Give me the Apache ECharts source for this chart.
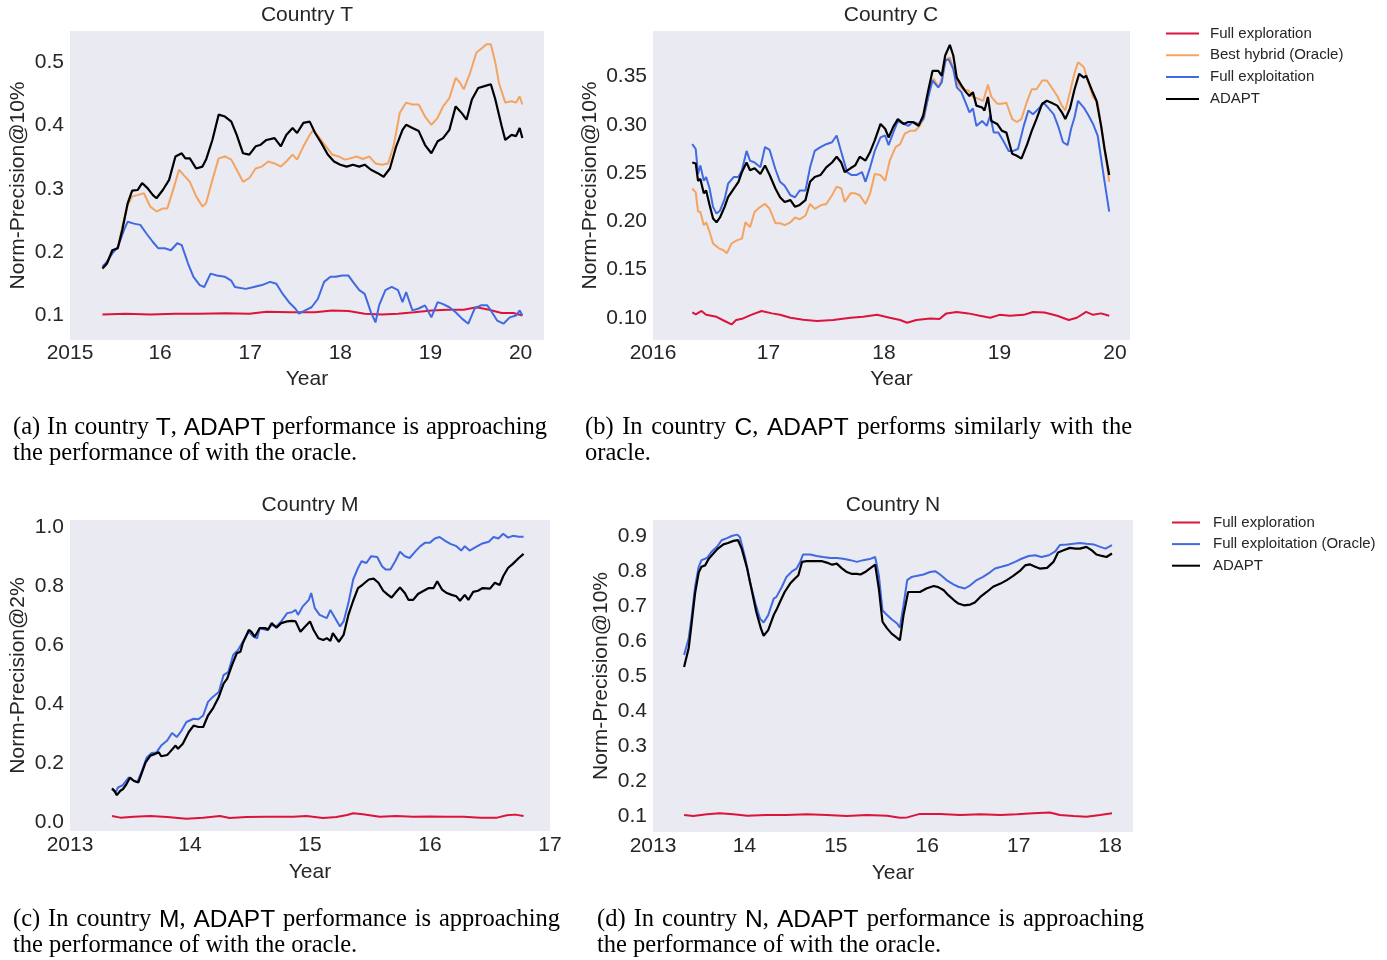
<!DOCTYPE html>
<html><head><meta charset="utf-8">
<script src="https://cdn.jsdelivr.net/npm/echarts@6/dist/echarts.min.js"></script>
<style>html,body{margin:0;padding:0;background:#fff}#c{width:1387px;height:960px}</style>
</head><body><div id="c"></div>
<script>
// ---------- Country T ----------
const tExplore = [[2015.36,0.1016],[2015.62,0.1026],[2015.89,0.1016],[2016.17,0.1026],[2016.44,0.1026],[2016.72,0.1037],[2016.99,0.1026],[2017.18,0.106],[2017.45,0.105],[2017.72,0.105],[2017.91,0.108],[2018.09,0.107],[2018.27,0.1026],[2018.46,0.1016],[2018.64,0.1026],[2018.82,0.105],[2019.01,0.108],[2019.19,0.109],[2019.37,0.109],[2019.51,0.113],[2019.65,0.109],[2019.79,0.104],[2019.92,0.104],[2020.02,0.100]];
const tOracle = [[2015.36,0.174],[2015.41,0.182],[2015.47,0.203],[2015.53,0.206],[2015.58,0.240],[2015.64,0.274],[2015.69,0.288],[2015.75,0.290],[2015.82,0.293],[2015.89,0.272],[2015.96,0.264],[2016.03,0.269],[2016.08,0.269],[2016.15,0.301],[2016.21,0.330],[2016.26,0.322],[2016.33,0.311],[2016.40,0.288],[2016.47,0.272],[2016.51,0.277],[2016.58,0.314],[2016.65,0.348],[2016.72,0.351],[2016.79,0.346],[2016.85,0.330],[2016.92,0.311],[2016.99,0.317],[2017.06,0.332],[2017.13,0.335],[2017.20,0.343],[2017.27,0.340],[2017.34,0.335],[2017.40,0.343],[2017.47,0.354],[2017.52,0.346],[2017.59,0.367],[2017.66,0.385],[2017.70,0.393],[2017.77,0.380],[2017.84,0.367],[2017.91,0.354],[2017.98,0.351],[2018.05,0.346],[2018.11,0.348],[2018.18,0.351],[2018.25,0.347],[2018.32,0.351],[2018.39,0.340],[2018.46,0.338],[2018.53,0.340],[2018.59,0.367],[2018.66,0.420],[2018.73,0.436],[2018.80,0.433],[2018.87,0.433],[2018.94,0.414],[2019.01,0.401],[2019.08,0.412],[2019.14,0.430],[2019.21,0.443],[2019.28,0.475],[2019.33,0.467],[2019.37,0.457],[2019.44,0.483],[2019.51,0.515],[2019.58,0.523],[2019.62,0.528],[2019.67,0.528],[2019.72,0.499],[2019.76,0.467],[2019.83,0.436],[2019.90,0.438],[2019.95,0.436],[2019.99,0.446],[2020.02,0.433]];
const tExploit = [[2015.36,0.177],[2015.41,0.185],[2015.47,0.198],[2015.53,0.208],[2015.60,0.235],[2015.64,0.248],[2015.71,0.245],[2015.78,0.243],[2015.85,0.229],[2015.92,0.216],[2015.98,0.206],[2016.05,0.206],[2016.12,0.203],[2016.19,0.214],[2016.24,0.211],[2016.31,0.182],[2016.37,0.161],[2016.44,0.148],[2016.49,0.145],[2016.56,0.166],[2016.63,0.163],[2016.72,0.161],[2016.79,0.155],[2016.83,0.145],[2016.95,0.142],[2017.04,0.145],[2017.13,0.148],[2017.22,0.153],[2017.29,0.150],[2017.36,0.134],[2017.43,0.121],[2017.50,0.111],[2017.54,0.103],[2017.61,0.108],[2017.68,0.113],[2017.75,0.126],[2017.82,0.153],[2017.89,0.161],[2017.95,0.161],[2018.02,0.163],[2018.09,0.163],[2018.14,0.153],[2018.21,0.140],[2018.27,0.134],[2018.34,0.105],[2018.39,0.089],[2018.43,0.116],[2018.50,0.140],[2018.57,0.145],[2018.64,0.140],[2018.69,0.121],[2018.73,0.137],[2018.80,0.108],[2018.87,0.111],[2018.94,0.116],[2019.01,0.097],[2019.08,0.121],[2019.14,0.118],[2019.21,0.113],[2019.28,0.105],[2019.35,0.095],[2019.42,0.087],[2019.49,0.111],[2019.56,0.116],[2019.63,0.116],[2019.67,0.108],[2019.74,0.092],[2019.81,0.087],[2019.88,0.097],[2019.95,0.100],[2019.99,0.108],[2020.02,0.100]];
const tAdapt = [[2015.36,0.174],[2015.41,0.182],[2015.47,0.203],[2015.53,0.206],[2015.58,0.235],[2015.64,0.277],[2015.69,0.297],[2015.75,0.298],[2015.80,0.309],[2015.86,0.301],[2015.92,0.290],[2015.96,0.285],[2016.03,0.298],[2016.10,0.314],[2016.17,0.351],[2016.24,0.356],[2016.28,0.348],[2016.33,0.348],[2016.40,0.332],[2016.47,0.335],[2016.51,0.346],[2016.58,0.377],[2016.65,0.417],[2016.72,0.414],[2016.79,0.406],[2016.85,0.385],[2016.92,0.356],[2016.99,0.354],[2017.06,0.367],[2017.11,0.369],[2017.18,0.377],[2017.27,0.380],[2017.34,0.367],[2017.40,0.385],[2017.47,0.396],[2017.52,0.388],[2017.59,0.404],[2017.66,0.406],[2017.72,0.388],[2017.79,0.372],[2017.86,0.354],[2017.93,0.343],[2018.00,0.338],[2018.07,0.335],[2018.14,0.338],[2018.21,0.335],[2018.27,0.338],[2018.34,0.330],[2018.41,0.325],[2018.48,0.319],[2018.55,0.332],[2018.62,0.367],[2018.69,0.393],[2018.73,0.401],[2018.80,0.396],[2018.87,0.391],[2018.94,0.369],[2019.01,0.356],[2019.08,0.375],[2019.14,0.380],[2019.21,0.393],[2019.28,0.430],[2019.35,0.419],[2019.40,0.409],[2019.46,0.441],[2019.53,0.459],[2019.60,0.462],[2019.67,0.465],[2019.72,0.441],[2019.79,0.399],[2019.83,0.377],[2019.90,0.385],[2019.95,0.383],[2019.99,0.396],[2020.02,0.380]];
const tXTicks = [2015,2016,2017,2018,2019,2020];
const tYTicks = [0.1,0.2,0.3,0.4,0.5];

// ---------- Country C ----------
const cExplore = [[2016.34,0.1055],[2016.37,0.1034],[2016.42,0.107],[2016.46,0.103],[2016.55,0.101],[2016.62,0.0966],[2016.68,0.093],[2016.72,0.0976],[2016.78,0.0993],[2016.85,0.103],[2016.94,0.107],[2017.03,0.1045],[2017.10,0.103],[2017.19,0.100],[2017.30,0.098],[2017.42,0.0966],[2017.56,0.0976],[2017.71,0.100],[2017.82,0.101],[2017.94,0.103],[2018.05,0.100],[2018.14,0.0976],[2018.20,0.0948],[2018.28,0.0976],[2018.40,0.0993],[2018.48,0.0986],[2018.54,0.1045],[2018.63,0.106],[2018.73,0.1045],[2018.83,0.102],[2018.92,0.100],[2019.00,0.103],[2019.09,0.102],[2019.21,0.103],[2019.29,0.106],[2019.39,0.1055],[2019.50,0.102],[2019.60,0.0976],[2019.67,0.100],[2019.75,0.106],[2019.81,0.103],[2019.88,0.1045],[2019.95,0.102]];
const cOracle = [[2016.34,0.234],[2016.37,0.230],[2016.39,0.210],[2016.41,0.210],[2016.44,0.196],[2016.46,0.199],[2016.49,0.189],[2016.52,0.177],[2016.57,0.172],[2016.61,0.170],[2016.64,0.167],[2016.68,0.177],[2016.72,0.180],[2016.77,0.182],[2016.80,0.199],[2016.84,0.194],[2016.88,0.210],[2016.93,0.215],[2016.97,0.218],[2017.01,0.213],[2017.06,0.198],[2017.10,0.198],[2017.14,0.196],[2017.19,0.199],[2017.23,0.204],[2017.27,0.202],[2017.32,0.206],[2017.36,0.218],[2017.40,0.213],[2017.46,0.217],[2017.50,0.218],[2017.55,0.227],[2017.59,0.236],[2017.63,0.234],[2017.66,0.220],[2017.71,0.229],[2017.75,0.229],[2017.79,0.227],[2017.84,0.218],[2017.88,0.229],[2017.92,0.249],[2017.97,0.248],[2018.01,0.242],[2018.05,0.263],[2018.10,0.277],[2018.14,0.280],[2018.18,0.291],[2018.23,0.294],[2018.27,0.294],[2018.31,0.299],[2018.35,0.308],[2018.40,0.342],[2018.43,0.348],[2018.47,0.339],[2018.50,0.348],[2018.54,0.368],[2018.57,0.370],[2018.60,0.358],[2018.64,0.342],[2018.69,0.336],[2018.73,0.336],[2018.77,0.329],[2018.82,0.327],[2018.86,0.325],[2018.90,0.342],[2018.93,0.329],[2018.98,0.322],[2019.02,0.322],[2019.06,0.323],[2019.11,0.306],[2019.15,0.303],[2019.19,0.306],[2019.24,0.325],[2019.28,0.337],[2019.32,0.337],[2019.37,0.346],[2019.41,0.346],[2019.45,0.339],[2019.50,0.330],[2019.54,0.320],[2019.57,0.315],[2019.61,0.334],[2019.65,0.354],[2019.68,0.365],[2019.73,0.360],[2019.77,0.344],[2019.81,0.329],[2019.85,0.323],[2019.88,0.299],[2019.91,0.275],[2019.95,0.241]];
const cExploit = [[2016.34,0.280],[2016.37,0.275],[2016.39,0.249],[2016.41,0.258],[2016.44,0.242],[2016.46,0.246],[2016.49,0.234],[2016.52,0.215],[2016.55,0.208],[2016.58,0.211],[2016.62,0.223],[2016.65,0.239],[2016.70,0.246],[2016.74,0.246],[2016.77,0.253],[2016.81,0.273],[2016.84,0.263],[2016.88,0.261],[2016.93,0.256],[2016.97,0.277],[2017.01,0.274],[2017.06,0.254],[2017.10,0.241],[2017.14,0.237],[2017.19,0.227],[2017.23,0.225],[2017.27,0.232],[2017.32,0.232],[2017.36,0.256],[2017.40,0.273],[2017.45,0.277],[2017.50,0.280],[2017.55,0.282],[2017.59,0.289],[2017.63,0.272],[2017.68,0.251],[2017.72,0.248],[2017.76,0.248],[2017.81,0.251],[2017.84,0.241],[2017.88,0.256],[2017.92,0.273],[2017.97,0.287],[2018.01,0.289],[2018.04,0.279],[2018.08,0.292],[2018.12,0.304],[2018.17,0.301],[2018.21,0.299],[2018.25,0.303],[2018.30,0.301],[2018.34,0.306],[2018.38,0.327],[2018.42,0.346],[2018.47,0.339],[2018.50,0.344],[2018.53,0.367],[2018.56,0.368],[2018.60,0.358],[2018.63,0.339],[2018.67,0.334],[2018.71,0.322],[2018.74,0.313],[2018.77,0.317],[2018.80,0.299],[2018.85,0.304],[2018.89,0.299],[2018.92,0.310],[2018.95,0.292],[2018.99,0.292],[2019.03,0.284],[2019.08,0.273],[2019.12,0.273],[2019.16,0.275],[2019.21,0.299],[2019.25,0.315],[2019.29,0.311],[2019.34,0.317],[2019.38,0.323],[2019.42,0.318],[2019.47,0.311],[2019.51,0.298],[2019.55,0.282],[2019.59,0.279],[2019.62,0.296],[2019.65,0.308],[2019.68,0.325],[2019.73,0.318],[2019.77,0.310],[2019.81,0.301],[2019.85,0.289],[2019.88,0.265],[2019.91,0.241],[2019.95,0.210]];
const cAdapt = [[2016.34,0.261],[2016.37,0.260],[2016.39,0.242],[2016.41,0.244],[2016.44,0.229],[2016.46,0.232],[2016.49,0.217],[2016.52,0.203],[2016.55,0.199],[2016.58,0.204],[2016.62,0.215],[2016.65,0.225],[2016.70,0.234],[2016.74,0.241],[2016.77,0.251],[2016.81,0.261],[2016.84,0.253],[2016.88,0.255],[2016.93,0.249],[2016.97,0.258],[2017.01,0.248],[2017.06,0.234],[2017.10,0.225],[2017.14,0.220],[2017.19,0.222],[2017.23,0.215],[2017.27,0.217],[2017.32,0.222],[2017.36,0.241],[2017.40,0.246],[2017.45,0.248],[2017.50,0.256],[2017.55,0.261],[2017.59,0.267],[2017.63,0.261],[2017.66,0.251],[2017.71,0.255],[2017.75,0.258],[2017.79,0.267],[2017.84,0.263],[2017.88,0.272],[2017.92,0.284],[2017.97,0.301],[2018.01,0.296],[2018.04,0.287],[2018.08,0.298],[2018.12,0.306],[2018.17,0.301],[2018.21,0.303],[2018.25,0.303],[2018.30,0.299],[2018.34,0.310],[2018.38,0.334],[2018.42,0.356],[2018.47,0.356],[2018.50,0.351],[2018.53,0.372],[2018.57,0.383],[2018.60,0.372],[2018.63,0.349],[2018.67,0.341],[2018.71,0.334],[2018.74,0.330],[2018.77,0.334],[2018.80,0.320],[2018.85,0.318],[2018.87,0.315],[2018.90,0.329],[2018.93,0.304],[2018.98,0.301],[2019.02,0.294],[2019.06,0.292],[2019.11,0.270],[2019.15,0.268],[2019.19,0.265],[2019.24,0.280],[2019.28,0.294],[2019.32,0.306],[2019.37,0.322],[2019.41,0.325],[2019.45,0.323],[2019.50,0.320],[2019.54,0.313],[2019.57,0.306],[2019.61,0.317],[2019.65,0.337],[2019.69,0.353],[2019.73,0.349],[2019.75,0.351],[2019.80,0.336],[2019.84,0.325],[2019.88,0.299],[2019.91,0.275],[2019.95,0.248]];
const cXTicks = [2016,2017,2018,2019,2020];
const cYTicks = [0.10,0.15,0.20,0.25,0.30,0.35];

// ---------- Country M ----------
const mExplore = [[2013.35,0.0205],[2013.42,0.0148],[2013.53,0.018],[2013.67,0.0205],[2013.81,0.017],[2013.97,0.0114],[2014.11,0.0148],[2014.25,0.0205],[2014.33,0.0136],[2014.47,0.017],[2014.64,0.018],[2014.86,0.018],[2014.97,0.0205],[2015.11,0.0136],[2015.22,0.017],[2015.31,0.024],[2015.36,0.0295],[2015.44,0.026],[2015.58,0.018],[2015.72,0.0205],[2015.86,0.018],[2016.00,0.019],[2016.14,0.018],[2016.28,0.018],[2016.42,0.0148],[2016.56,0.0148],[2016.64,0.0227],[2016.71,0.025],[2016.78,0.0205]];
const mExploit = [[2013.35,0.111],[2013.38,0.100],[2013.40,0.117],[2013.44,0.125],[2013.49,0.151],[2013.51,0.145],[2013.56,0.134],[2013.60,0.174],[2013.64,0.219],[2013.68,0.234],[2013.72,0.236],[2013.76,0.259],[2013.81,0.276],[2013.85,0.302],[2013.89,0.288],[2013.93,0.310],[2013.97,0.339],[2014.03,0.350],[2014.07,0.348],[2014.11,0.361],[2014.15,0.407],[2014.19,0.424],[2014.24,0.441],[2014.28,0.498],[2014.32,0.509],[2014.36,0.566],[2014.40,0.583],[2014.44,0.611],[2014.49,0.645],[2014.53,0.628],[2014.56,0.623],[2014.58,0.657],[2014.64,0.651],[2014.68,0.668],[2014.72,0.663],[2014.76,0.680],[2014.81,0.708],[2014.85,0.711],[2014.88,0.719],[2014.90,0.702],[2014.94,0.731],[2014.99,0.753],[2015.01,0.776],[2015.04,0.725],[2015.08,0.702],[2015.14,0.691],[2015.17,0.719],[2015.21,0.691],[2015.25,0.663],[2015.28,0.680],[2015.32,0.742],[2015.36,0.822],[2015.40,0.861],[2015.43,0.884],[2015.47,0.878],[2015.51,0.901],[2015.56,0.898],[2015.60,0.867],[2015.63,0.856],[2015.67,0.856],[2015.71,0.884],[2015.75,0.916],[2015.79,0.901],[2015.83,0.895],[2015.88,0.918],[2015.92,0.935],[2015.96,0.947],[2016.00,0.947],[2016.04,0.961],[2016.08,0.966],[2016.13,0.952],[2016.17,0.943],[2016.22,0.935],[2016.26,0.920],[2016.29,0.935],[2016.33,0.920],[2016.38,0.932],[2016.43,0.943],[2016.49,0.950],[2016.53,0.966],[2016.57,0.961],[2016.61,0.977],[2016.65,0.964],[2016.69,0.970],[2016.74,0.967],[2016.78,0.967]];
const mAdapt = [[2013.35,0.114],[2013.37,0.106],[2013.39,0.091],[2013.42,0.106],[2013.44,0.111],[2013.47,0.128],[2013.50,0.151],[2013.53,0.140],[2013.57,0.134],[2013.60,0.168],[2013.63,0.202],[2013.67,0.225],[2013.71,0.231],[2013.74,0.236],[2013.76,0.223],[2013.81,0.227],[2013.83,0.236],[2013.88,0.259],[2013.90,0.248],[2013.94,0.265],[2013.99,0.305],[2014.03,0.327],[2014.07,0.322],[2014.11,0.322],[2014.15,0.361],[2014.19,0.384],[2014.24,0.424],[2014.28,0.469],[2014.31,0.486],[2014.35,0.532],[2014.39,0.572],[2014.42,0.577],[2014.44,0.606],[2014.49,0.651],[2014.51,0.645],[2014.54,0.628],[2014.58,0.657],[2014.63,0.657],[2014.65,0.651],[2014.68,0.674],[2014.72,0.659],[2014.76,0.674],[2014.81,0.680],[2014.85,0.682],[2014.88,0.680],[2014.92,0.645],[2014.96,0.663],[2015.00,0.680],[2015.03,0.651],[2015.07,0.623],[2015.11,0.617],[2015.14,0.623],[2015.17,0.614],[2015.19,0.640],[2015.24,0.611],[2015.28,0.634],[2015.32,0.702],[2015.36,0.750],[2015.40,0.793],[2015.44,0.805],[2015.49,0.822],[2015.53,0.825],[2015.57,0.811],[2015.61,0.784],[2015.65,0.770],[2015.68,0.761],[2015.71,0.776],[2015.75,0.795],[2015.79,0.776],[2015.82,0.753],[2015.86,0.753],[2015.90,0.773],[2015.94,0.782],[2015.99,0.793],[2016.03,0.793],[2016.06,0.816],[2016.10,0.788],[2016.14,0.776],[2016.18,0.770],[2016.22,0.765],[2016.25,0.750],[2016.29,0.770],[2016.32,0.753],[2016.36,0.780],[2016.40,0.784],[2016.44,0.793],[2016.50,0.791],[2016.54,0.811],[2016.58,0.803],[2016.61,0.833],[2016.65,0.861],[2016.69,0.875],[2016.74,0.895],[2016.78,0.909]];
const mXTicks = [2013,2014,2015,2016,2017];
const mYTicks = [0.0,0.2,0.4,0.6,0.8,1.0];

// ---------- Country N ----------
const nExplore = [[2013.34,0.103],[2013.44,0.100],[2013.59,0.105],[2013.73,0.108],[2013.88,0.105],[2014.03,0.101],[2014.24,0.103],[2014.46,0.103],[2014.68,0.105],[2014.90,0.103],[2015.12,0.100],[2015.34,0.103],[2015.56,0.101],[2015.70,0.095],[2015.78,0.096],[2015.92,0.106],[2016.14,0.106],[2016.36,0.103],[2016.58,0.105],[2016.80,0.103],[2016.98,0.105],[2017.16,0.108],[2017.34,0.110],[2017.45,0.103],[2017.60,0.100],[2017.74,0.098],[2017.89,0.103],[2018.02,0.108]];
const nExploit = [[2013.34,0.560],[2013.39,0.607],[2013.42,0.664],[2013.46,0.755],[2013.50,0.812],[2013.53,0.831],[2013.59,0.837],[2013.64,0.855],[2013.70,0.869],[2013.75,0.888],[2013.81,0.894],[2013.86,0.900],[2013.92,0.904],[2013.95,0.897],[2014.01,0.836],[2014.06,0.769],[2014.12,0.707],[2014.17,0.664],[2014.21,0.653],[2014.26,0.674],[2014.32,0.721],[2014.35,0.726],[2014.41,0.755],[2014.46,0.783],[2014.52,0.799],[2014.57,0.807],[2014.61,0.826],[2014.64,0.847],[2014.72,0.847],[2014.79,0.843],[2014.86,0.840],[2014.94,0.837],[2015.01,0.837],[2015.08,0.835],[2015.16,0.831],[2015.23,0.826],[2015.30,0.831],[2015.37,0.834],[2015.43,0.840],[2015.47,0.788],[2015.51,0.688],[2015.56,0.674],[2015.61,0.662],[2015.67,0.650],[2015.70,0.638],[2015.74,0.702],[2015.78,0.774],[2015.83,0.783],[2015.88,0.786],[2015.96,0.790],[2016.03,0.797],[2016.09,0.799],[2016.14,0.790],[2016.21,0.774],[2016.29,0.761],[2016.34,0.755],[2016.41,0.750],[2016.47,0.759],[2016.54,0.774],[2016.61,0.783],[2016.69,0.797],[2016.74,0.807],[2016.81,0.812],[2016.89,0.818],[2016.96,0.826],[2017.03,0.835],[2017.11,0.843],[2017.18,0.845],[2017.25,0.840],[2017.33,0.845],[2017.40,0.856],[2017.45,0.874],[2017.53,0.876],[2017.60,0.878],[2017.67,0.880],[2017.74,0.878],[2017.82,0.876],[2017.89,0.869],[2017.95,0.864],[2018.02,0.874]];
const nAdapt = [[2013.34,0.526],[2013.39,0.579],[2013.42,0.645],[2013.46,0.736],[2013.50,0.796],[2013.53,0.812],[2013.57,0.816],[2013.61,0.835],[2013.66,0.850],[2013.71,0.864],[2013.77,0.876],[2013.82,0.880],[2013.88,0.886],[2013.93,0.888],[2013.97,0.864],[2014.03,0.807],[2014.08,0.745],[2014.13,0.683],[2014.18,0.636],[2014.21,0.615],[2014.26,0.631],[2014.32,0.674],[2014.35,0.689],[2014.39,0.712],[2014.44,0.740],[2014.50,0.764],[2014.55,0.778],[2014.59,0.788],[2014.63,0.826],[2014.68,0.828],[2014.75,0.828],[2014.85,0.828],[2014.90,0.824],[2014.96,0.818],[2015.01,0.821],[2015.06,0.809],[2015.12,0.797],[2015.17,0.792],[2015.23,0.792],[2015.27,0.790],[2015.32,0.797],[2015.37,0.807],[2015.43,0.818],[2015.47,0.750],[2015.51,0.655],[2015.56,0.636],[2015.61,0.621],[2015.67,0.609],[2015.70,0.602],[2015.74,0.674],[2015.79,0.740],[2015.85,0.740],[2015.92,0.740],[2015.99,0.750],[2016.07,0.757],[2016.12,0.754],[2016.18,0.745],[2016.23,0.731],[2016.29,0.717],[2016.34,0.707],[2016.40,0.702],[2016.47,0.704],[2016.52,0.710],[2016.58,0.726],[2016.65,0.740],[2016.72,0.755],[2016.80,0.764],[2016.87,0.774],[2016.94,0.786],[2017.02,0.802],[2017.07,0.816],[2017.12,0.819],[2017.18,0.812],[2017.23,0.807],[2017.31,0.809],[2017.38,0.826],[2017.43,0.853],[2017.49,0.859],[2017.56,0.866],[2017.62,0.864],[2017.67,0.864],[2017.74,0.869],[2017.80,0.859],[2017.85,0.847],[2017.91,0.843],[2017.96,0.840],[2018.02,0.850]];
const nXTicks = [2013,2014,2015,2016,2017,2018];
const nYTicks = [0.1,0.2,0.3,0.4,0.5,0.6,0.7,0.8,0.9];

// ---------- Styling / layout ----------
const TXT = '#262626';
const SANS = '"Liberation Sans", Arial, Helvetica, sans-serif';
const SERIF = '"Liberation Serif", "Times New Roman", serif';
const RED = '#DC143C', ORANGE = '#F4A460', BLUE = '#4169E1', BLACK = '#000000';
const FS = 21;

const grids = [
  {left:70, top:31, width:474, height:309},
  {left:653, top:31, width:477, height:309},
  {left:70, top:520, width:480, height:311},
  {left:653, top:520, width:480, height:312}
].map(g => Object.assign(g, {show:true, backgroundColor:'#EAEAF2', borderWidth:0, containLabel:false}));

function mkX(gi, min, max, ticks, nameGap, margin) {
  return {type:'value', gridIndex:gi, min, max, name:'Year', nameLocation:'middle', nameGap,
    nameTextStyle:{fontSize:FS, color:TXT, fontFamily:SANS},
    axisLine:{show:false}, axisTick:{show:false}, splitLine:{show:false},
    axisLabel:{customValues:ticks, fontSize:FS, color:TXT, fontFamily:SANS, margin,
      formatter: v => (Math.abs(v - ticks[0]) < 1e-9 ? String(Math.round(v)) : String(Math.round(v)).slice(2))}};
}
function mkY(gi, min, max, ticks, digits, name, nameGap) {
  return {type:'value', gridIndex:gi, min, max, name, nameLocation:'middle', nameGap, nameRotate:90,
    nameTextStyle:{fontSize:FS, color:TXT, fontFamily:SANS},
    axisLine:{show:false}, axisTick:{show:false}, splitLine:{show:false},
    axisLabel:{customValues:ticks, fontSize:FS, color:TXT, fontFamily:SANS, margin:6,
      formatter: v => v.toFixed(digits)}};
}
function ln(name, data, color, gi, w) {
  return {type:'line', name, data, xAxisIndex:gi, yAxisIndex:gi, symbol:'none', showSymbol:false,
    lineStyle:{color, width:w || 2}, itemStyle:{color}, emphasis:{disabled:true}, animation:false, silent:true};
}

// captions
const CAP = 24.5;
const mctx = document.createElement('canvas').getContext('2d');
function tw(t, fam) { mctx.font = CAP + 'px ' + fam; return mctx.measureText(t).width; }
function capLine(str, x, y, width) {
  const words = str.split(' ').map(w => w.split(/(\{[^}]*\})/).filter(Boolean)
    .map(p => p[0] === '{' ? {t:p.slice(1,-1), f:SANS} : {t:p, f:SERIF}));
  const ww = words.map(ps => ps.reduce((s,p) => s + tw(p.t, p.f), 0));
  const total = ww.reduce((a,b) => a+b, 0);
  const gap = width ? (width - total) / (words.length - 1) : tw(' ', SERIF);
  const els = []; let cx = x;
  words.forEach((ps, i) => {
    let px = cx;
    ps.forEach(p => {
      els.push({type:'text', x:px, y, silent:true,
        style:{text:p.t, fontSize:CAP, fontFamily:p.f, fill:'#000', align:'left', verticalAlign:'middle'}});
      px += tw(p.t, p.f);
    });
    cx += ww[i] + gap;
  });
  return els;
}
function title(text, x, y) {
  return {type:'text', x, y, silent:true, style:{text, fontSize:FS, fontFamily:SANS, fill:TXT, align:'center', verticalAlign:'middle'}};
}

const graphics = [
  title('Country T', 307, 15), title('Country C', 891, 15),
  title('Country M', 310, 505), title('Country N', 893, 505),
  ...capLine('(a) In country {T}, {ADAPT} performance is approaching', 13, 428, 534),
  ...capLine('the performance of with the oracle.', 13, 454, 0),
  ...capLine('(b) In country {C}, {ADAPT} performs similarly with the', 585, 428, 547),
  ...capLine('oracle.', 585, 454, 0),
  ...capLine('(c) In country {M}, {ADAPT} performance is approaching', 13, 920, 547),
  ...capLine('the performance of with the oracle.', 13, 946, 0),
  ...capLine('(d) In country {N}, {ADAPT} performance is approaching', 597, 920, 547),
  ...capLine('the performance of with the oracle.', 597, 946, 0)
];

const legendText = (pad) => ({fontSize:15, lineHeight:15, color:TXT, fontFamily:SANS, padding:[0,0,0,pad]});
const option = {
  animation:false,
  textStyle:{fontFamily:SANS},
  grid: grids,
  xAxis: [
    mkX(0, 2015, 2020.26, tXTicks, 29, 3),
    mkX(1, 2016, 2020.13, cXTicks, 29, 3),
    mkX(2, 2013, 2017, mXTicks, 31, 4),
    mkX(3, 2013, 2018.25, nXTicks, 31, 4)
  ],
  yAxis: [
    mkY(0, 0.0613, 0.549, tYTicks, 1, 'Norm-Precision@10%', 41),
    mkY(1, 0.0769, 0.3974, cYTicks, 2, 'Norm-Precision@10%', 52),
    mkY(2, -0.0305, 1.0237, mYTicks, 1, 'Norm-Precision@2%', 41),
    mkY(3, 0.0543, 0.9457, nYTicks, 1, 'Norm-Precision@10%', 41)
  ],
  legend: [
    {data:['Full exploration','Best hybrid (Oracle)','Full exploitation','ADAPT'], orient:'vertical',
     left:1166, top:26, padding:0, icon:'rect', itemWidth:33, itemHeight:2, itemGap:6.8, selectedMode:false,
     textStyle:legendText(6)},
    {data:['Full exploration','Full exploitation (Oracle)','ADAPT'], orient:'vertical',
     left:1172, top:515, padding:0, icon:'rect', itemWidth:28, itemHeight:2, itemGap:6.6, selectedMode:false,
     textStyle:legendText(8)}
  ],
  series: [
    ln('Full exploration', tExplore, RED, 0), ln('Best hybrid (Oracle)', tOracle, ORANGE, 0),
    ln('Full exploitation', tExploit, BLUE, 0), ln('ADAPT', tAdapt, BLACK, 0, 2.2),
    ln('Full exploration', cExplore, RED, 1), ln('Best hybrid (Oracle)', cOracle, ORANGE, 1),
    ln('Full exploitation', cExploit, BLUE, 1), ln('ADAPT', cAdapt, BLACK, 1, 2.2),
    ln('Full exploration', mExplore, RED, 2), ln('Full exploitation (Oracle)', mExploit, BLUE, 2),
    ln('ADAPT', mAdapt, BLACK, 2, 2.2),
    ln('Full exploration', nExplore, RED, 3), ln('Full exploitation (Oracle)', nExploit, BLUE, 3),
    ln('ADAPT', nAdapt, BLACK, 3, 2.2)
  ],
  graphic: graphics
};
const chart = echarts.init(document.getElementById('c'), null, {renderer:'canvas'});
chart.setOption(option);
</script></body></html>
